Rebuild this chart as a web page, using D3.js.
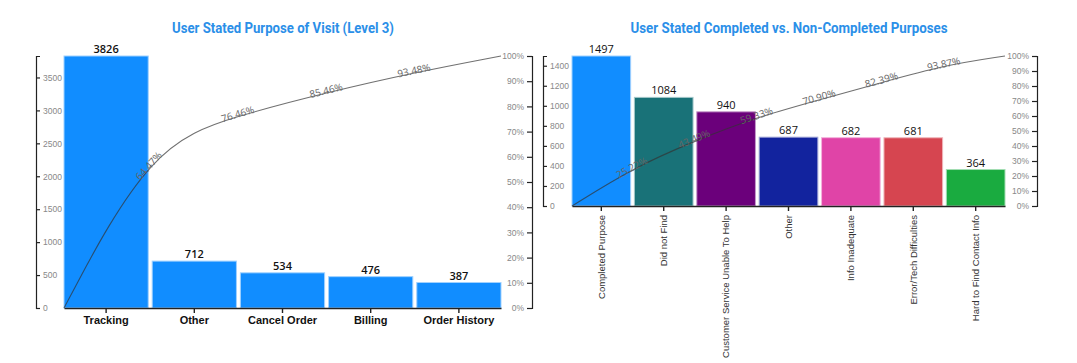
<!DOCTYPE html>
<html>
<head>
<meta charset="utf-8">
<script src="https://cdn.jsdelivr.net/npm/d3@7"></script>
<style>
  body { margin: 0; background: #fff; }
  svg { display: block; font-family: "Open Sans", "Noto Sans", sans-serif; }
  .title { font-family: Roboto, "Open Sans", sans-serif; font-weight: 700; font-size: 14px; fill: #2b8fe8; }
  .yaxis text { fill: #888; font-size: 8.5px; }
  .yaxis path, .yaxis line { stroke: #222; stroke-width: 1.2; }
  .xaxis path, .xaxis line { stroke: #222; stroke-width: 1.4; }
</style>
</head>
<body>
<svg id="chart" width="1077" height="363"></svg>
<script>
// left chart data
const visitCats = ["Tracking", "Other", "Cancel Order", "Billing", "Order History"];
const visitCounts = [3826, 712, 534, 476, 387];
const visitTicks = [0, 500, 1000, 1500, 2000, 2500, 3000, 3500];

// right chart data
const doneCats = ["Completed Purpose", "Did not Find", "Customer Service Unable To Help", "Other",
    "Info Inadequate", "Error/Tech Difficulties", "Hard to Find Contact Info"];
const doneCounts = [1497, 1084, 940, 687, 682, 681, 364];
const doneColors = ["#118DFF", "#197278", "#6B007B", "#12239E", "#E044A7", "#D64550", "#1AAB40"];
const doneTicks = [0, 200, 400, 600, 800, 1000, 1200, 1400];

const pctTicks = d3.range(0, 1.01, 0.1);

let svg = d3.select('#chart');

// draws one pareto chart (bars + cumulative line + two y axes)
function pareto(cfg) {

    let g = svg.append('g');

    let x = d3.scaleBand()
        .domain(cfg.cats)
        .range([cfg.x0, cfg.x1])
        .paddingInner(cfg.pad);

    let y = d3.scaleLinear()
        .domain([0, d3.max(cfg.counts)])
        .range([cfg.yBottom, cfg.yTop]);

    let yPct = d3.scaleLinear()
        .domain([0, 1])
        .range([cfg.yBottom, cfg.yTop]);

    // title
    g.append('text')
        .attr('class', 'title')
        .attr('x', cfg.titleX)
        .attr('y', 33)
        .attr('text-anchor', 'middle')
        .attr('textLength', cfg.titleW)
        .attr('lengthAdjust', 'spacingAndGlyphs')
        .text(cfg.title);

    let data = cfg.cats.map((c, i) => ({ cat: c, value: cfg.counts[i], color: cfg.colors[i % cfg.colors.length] }));

    // bars
    g.selectAll('rect.bar')
        .data(data)
        .join('rect')
        .attr('class', 'bar')
        .attr('x', d => x(d.cat))
        .attr('y', d => y(d.value))
        .attr('width', x.bandwidth())
        .attr('height', d => y(0) - y(d.value))
        .attr('fill', d => d.color)
        .attr('stroke', d => d3.interpolateRgb(d.color, '#fff')(0.6))
        .attr('stroke-width', 1);

    // value labels
    g.selectAll('text.val')
        .data(data)
        .join('text')
        .attr('class', 'val')
        .attr('x', d => x(d.cat) + x.bandwidth() / 2)
        .attr('y', d => y(d.value) - 3)
        .attr('text-anchor', 'middle')
        .attr('font-size', '11px')
        .attr('font-weight', cfg.valWeight)
        .attr('fill', '#111')
        .text(d => d.value);

    // cumulative share, one point per bar right edge
    let total = d3.sum(cfg.counts);
    let run = 0;
    let pts = [[cfg.x0, yPct(0)]];
    let shares = [0];
    cfg.counts.forEach((v, i) => {
        run += v;
        shares.push(run / total);
        pts.push([i == cfg.counts.length - 1 ? cfg.x1 : x(cfg.cats[i]) + x.bandwidth() + x.step() * x.paddingInner() / 2, yPct(run / total)]);
    });

    let line = d3.line().curve(d3.curveBasis);

    g.append('path')
        .attr('d', line(pts))
        .attr('fill', 'none')
        .attr('stroke', '#333')
        .attr('stroke-opacity', 0.7)
        .attr('stroke-width', 1.1);

    // percent labels sit on the curve knots, turned along it
    for (let i = 1; i < pts.length - 1; i++) {
        let a = pts[i - 1], b = pts[i], c = pts[i + 1];
        let kx = (a[0] + 4 * b[0] + c[0]) / 6;
        let ky = (a[1] + 4 * b[1] + c[1]) / 6;
        let ang = Math.atan2(c[1] - a[1], c[0] - a[0]) * 180 / Math.PI;
        g.append('text')
            .attr('transform', `translate(${kx},${ky}) rotate(${ang})`)
            .attr('text-anchor', 'middle')
            .attr('dy', '0.1em')
            .attr('font-size', '10px')
            .attr('fill', '#666')
            .text(d3.format('.2%')(shares[i]));
    }

    // left count axis (ticks point inward)
    g.append('g')
        .attr('class', 'yaxis')
        .attr('transform', `translate(${cfg.axL},0)`)
        .call(d3.axisRight(y).tickValues(cfg.ticks).tickFormat(d3.format('d')).tickSize(4).tickSizeOuter(4).tickPadding(3));

    // right percent axis
    g.append('g')
        .attr('class', 'yaxis')
        .attr('transform', `translate(${cfg.axR},0)`)
        .call(d3.axisLeft(yPct).tickValues(pctTicks).tickFormat(d3.format('.0%')).tickSize(5).tickSizeOuter(5).tickPadding(3));

    // category axis
    let xa = g.append('g')
        .attr('class', 'xaxis')
        .attr('transform', `translate(0,${cfg.yBottom})`)
        .call(d3.axisBottom(x).tickSize(5).tickSizeOuter(0));

    if (cfg.rotate) {
        xa.selectAll('text')
            .attr('transform', 'rotate(-90)')
            .attr('text-anchor', 'end')
            .attr('x', -9)
            .attr('y', 0)
            .attr('dy', '0.35em')
            .attr('font-size', '9.5px')
            .attr('fill', '#333');
    } else {
        xa.selectAll('text')
            .attr('y', 8)
            .attr('font-size', '11px')
            .attr('font-weight', 600)
            .attr('fill', '#111');
    }
}

pareto({
    title: "User Stated Purpose of Visit (Level 3)",
    titleX: 283, titleW: 222,
    cats: visitCats, counts: visitCounts, ticks: visitTicks,
    colors: ["#118DFF"],
    x0: 64, x1: 501, pad: 0.045,
    yTop: 56, yBottom: 308,
    axL: 36, axR: 532,
    valWeight: 600, rotate: false
});

pareto({
    title: "User Stated Completed vs. Non-Completed Purposes",
    titleX: 789, titleW: 317,
    cats: doneCats, counts: doneCounts, ticks: doneTicks,
    colors: doneColors,
    x0: 572, x1: 1005, pad: 0.06,
    yTop: 56, yBottom: 206,
    axL: 543, axR: 1037,
    valWeight: 400, rotate: true
});
</script>
</body>
</html>
